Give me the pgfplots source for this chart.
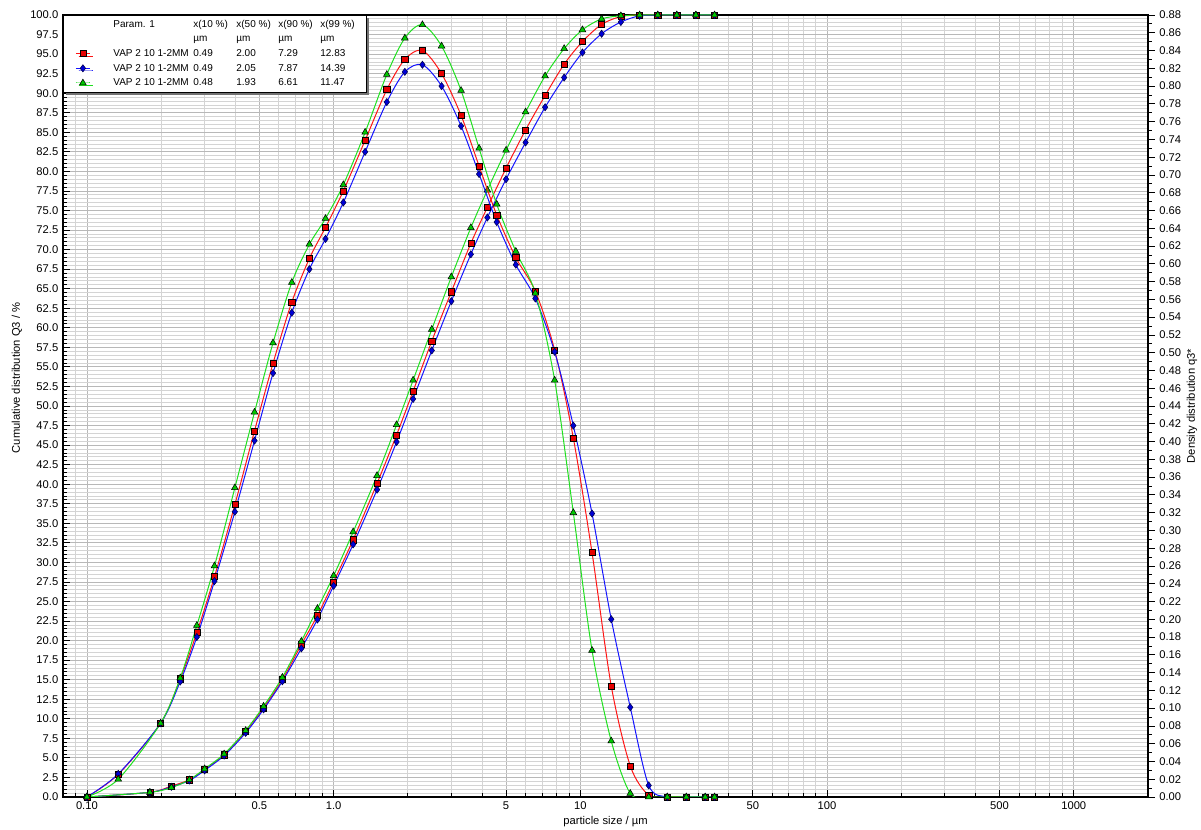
\documentclass[border=0pt]{standalone}
\usepackage{pgfplots}
\usepackage{pgfplotstable}
\pgfplotsset{compat=1.18}
\usepackage{fontspec}
\setmainfont{Liberation Sans}
\usetikzlibrary{shadows}

\definecolor{lred}{RGB}{255,20,20}
\definecolor{lblue}{RGB}{20,20,255}
\definecolor{lgreen}{RGB}{30,225,30}
\definecolor{mred}{RGB}{230,0,0}
\definecolor{mblue}{RGB}{0,0,215}
\definecolor{mgreen}{RGB}{0,200,0}

% cumulative distribution Q3 (%)
\pgfplotstableread{
x     red   blue  green
0.10  0     0     0
0.18  0.6   0.6   0.6
0.22  1.4   1.3   1.2
0.26  2.2   2.1   2.2
0.30  3.5   3.4   3.6
0.36  5.4   5.3   5.5
0.44  8.4   8.2   8.5
0.52  11.4  11.2  11.6
0.62  15.0  14.8  15.3
0.74  19.5  19.0  19.9
0.86  23.2  22.7  24.1
1.00  27.5  27.0  28.3
1.20  32.9  32.3  33.9
1.50  40.1  39.3  41.1
1.80  46.3  45.4  47.6
2.10  51.9  50.9  53.3
2.50  58.3  57.1  59.8
3.00  64.6  63.4  66.5
3.60  70.8  69.4  72.8
4.20  75.4  74.1  77.6
5.00  80.4  79.0  82.7
6.00  85.3  83.7  87.6
7.20  89.7  88.2  92.2
8.60  93.7  92.0  95.7
10.20 96.6  95.2  98.1
12.20 98.8  97.6  99.5
14.60 99.8  99.1  99.9
17.40 100   99.9  100
20.60 100   100   100
24.60 100   100   100
29.40 100   100   100
35.00 100   100   100
}\cumtable

% density distribution q3*
\pgfplotstableread{
x      red    blue   green
0.100  0      0      0
0.134  0.0255 0.026  0.020
0.199  0.083  0.083  0.083
0.239  0.133  0.130  0.134
0.279  0.185  0.180  0.193
0.329  0.248  0.243  0.260
0.398  0.329  0.321  0.348
0.478  0.412  0.401  0.433
0.568  0.488  0.477  0.511
0.677  0.557  0.545  0.579
0.798  0.606  0.594  0.622
0.927  0.641  0.628  0.651
1.095  0.682  0.669  0.689
1.342  0.739  0.726  0.748
1.643  0.796  0.782  0.813
1.944  0.830  0.816  0.854
2.291  0.840  0.824  0.869
2.739  0.814  0.800  0.845
3.286  0.767  0.755  0.795
3.888  0.710  0.701  0.730
4.583  0.655  0.647  0.667
5.477  0.607  0.599  0.614
6.573  0.569  0.561  0.567
7.869  0.503  0.501  0.469
9.366  0.404  0.418  0.320
11.155 0.275  0.319  0.165
13.346 0.125  0.200  0.063
15.939 0.035  0.101  0.004
18.933 0.002  0.013  0
22.511 0      0      0
26.893 0      0      0
32.078 0      0      0
35.000 0      0      0
}\dentable

\pgfplotsset{
  redplot/.style={color=lred, line width=0.75pt, smooth, mark=square*, mark size=2.3pt,
    mark options={fill=mred, draw=black, line width=0.4pt, solid}},
  blueplot/.style={color=lblue, line width=0.75pt, smooth, mark=diamond*, mark size=2.7pt,
    mark options={fill=mblue, draw=black!70!blue, line width=0.4pt, solid}},
  greenplot/.style={color=lgreen, line width=0.75pt, smooth, mark=triangle*, mark size=2.9pt,
    mark options={fill=mgreen, draw=black, line width=0.4pt, solid}},
}

\begin{document}
\begin{tikzpicture}
\begin{axis}[
  name=main,
  width=813.75pt, height=586.5pt, scale only axis,
  xmode=log, xmin=0.08, xmax=2000, ymin=0, ymax=100,
  xtick={0.1,0.5,1,5,10,50,100,500,1000},
  xticklabels={0.10,0.5,1.0,5,10,50,100,500,1000},
  minor xtick={0.08,0.09,0.2,0.3,0.4,0.6,0.7,0.8,0.9,2,3,4,6,7,8,9,20,30,40,60,70,80,90,200,300,400,600,700,800,900,2000},
  ytick={0,2.5,...,100}, minor y tick num=4,
  xtick pos=bottom, ytick pos=left,
  tick align=inside,
  major tick length=5pt, minor tick length=3pt,
  tick style={black, line width=0.6pt},
  grid=both,
  major grid style={black!28, line width=0.6pt},
  minor grid style={black!17, line width=0.6pt},
  axis line style={black, line width=0.8pt},
  yticklabel style={/pgf/number format/.cd, fixed, fixed zerofill, precision=1, assume math mode=true},
  tick label style={font=\fontsize{8.4}{10}\selectfont},
  label style={font=\fontsize{8.4}{10}\selectfont},
  xlabel={particle size / µm},
  ylabel={Cumulative distribution Q3 / \%},
  xlabel style={at={(axis description cs:0.5,-0.0316)}, anchor=center},
  ylabel style={at={(axis description cs:-0.0424,0.536)}, anchor=center},
  legend cell align=left,
  legend image code/.code={\draw[mark repeat=2, mark phase=2] plot coordinates {(0pt,0pt) (5.25pt,0pt) (10.5pt,0pt)};},
  legend style={
    at={(0,1)}, anchor=north west,
    draw=black, line width=0.6pt, fill=white,
    drop shadow={shadow xshift=2pt, shadow yshift=-2pt, fill=black!55, opacity=1},
    inner xsep=9pt, inner ysep=1.2pt,
    column sep=13.75pt, row sep=0pt,
    font=\fontsize{7.5}{9}\selectfont,
    nodes={inner xsep=3.5pt, inner ysep=1.75pt},
  },
]
\addlegendimage{empty legend}
\addlegendentry{\rule{0pt}{6pt}\makebox[60pt][l]{Param. 1}\makebox[32.25pt][l]{x(10 \%)}\makebox[31.5pt][l]{x(50 \%)}\makebox[31.5pt][l]{x(90 \%)}\makebox[22pt][l]{x(99 \%)}}
\addlegendimage{empty legend}
\addlegendentry{\rule{0pt}{6pt}\makebox[60pt][l]{}\makebox[32.25pt][l]{µm}\makebox[31.5pt][l]{µm}\makebox[31.5pt][l]{µm}\makebox[22pt][l]{µm}}
\addplot[redplot] table[x=x, y=red] {\cumtable};
\addlegendentry{\rule{0pt}{6pt}\makebox[60pt][l]{VAP 2 10 1-2MM}\makebox[32.25pt][l]{0.49}\makebox[31.5pt][l]{2.00}\makebox[31.5pt][l]{7.29}\makebox[22pt][l]{12.83}}
\addplot[blueplot] table[x=x, y=blue] {\cumtable};
\addlegendentry{\rule{0pt}{6pt}\makebox[60pt][l]{VAP 2 10 1-2MM}\makebox[32.25pt][l]{0.49}\makebox[31.5pt][l]{2.05}\makebox[31.5pt][l]{7.87}\makebox[22pt][l]{14.39}}
\addplot[greenplot] table[x=x, y=green] {\cumtable};
\addlegendentry{\rule{0pt}{6pt}\makebox[60pt][l]{VAP 2 10 1-2MM}\makebox[32.25pt][l]{0.48}\makebox[31.5pt][l]{1.93}\makebox[31.5pt][l]{6.61}\makebox[22pt][l]{11.47}}
\end{axis}
\begin{axis}[
  width=813.75pt, height=586.5pt, scale only axis,
  xmode=log, xmin=0.08, xmax=2000, ymin=0, ymax=0.88,
  axis x line=none, axis y line*=right,
  ytick={0,0.02,0.04,0.06,0.08,0.10,0.12,0.14,0.16,0.18,0.20,0.22,0.24,0.26,0.28,0.30,0.32,0.34,0.36,0.38,0.40,0.42,0.44,0.46,0.48,0.50,0.52,0.54,0.56,0.58,0.60,0.62,0.64,0.66,0.68,0.70,0.72,0.74,0.76,0.78,0.80,0.82,0.84,0.86,0.88},
  minor y tick num=1,
  tick align=outside,
  major tick length=5pt, minor tick length=3pt,
  tick style={black, line width=0.6pt},
  axis line style={black, line width=0.8pt},
  yticklabel style={/pgf/number format/.cd, fixed, fixed zerofill, precision=2, assume math mode=true},
  tick label style={font=\fontsize{8.4}{10}\selectfont},
  label style={font=\fontsize{8.4}{10}\selectfont},
  ylabel={Density distribution q3*},
  ylabel style={at={(axis description cs:1.0406,0.5)}, anchor=center},
]
\addplot[redplot] table[x=x, y=red] {\dentable};
\addplot[blueplot] table[x=x, y=blue] {\dentable};
\addplot[greenplot] table[x=x, y=green] {\dentable};
\end{axis}
\pgfresetboundingbox
\path ([shift={(-47.25pt,-24.75pt)}]main.south west) rectangle ([shift={(39.75pt,11.25pt)}]main.north east);
\end{tikzpicture}
\end{document}
